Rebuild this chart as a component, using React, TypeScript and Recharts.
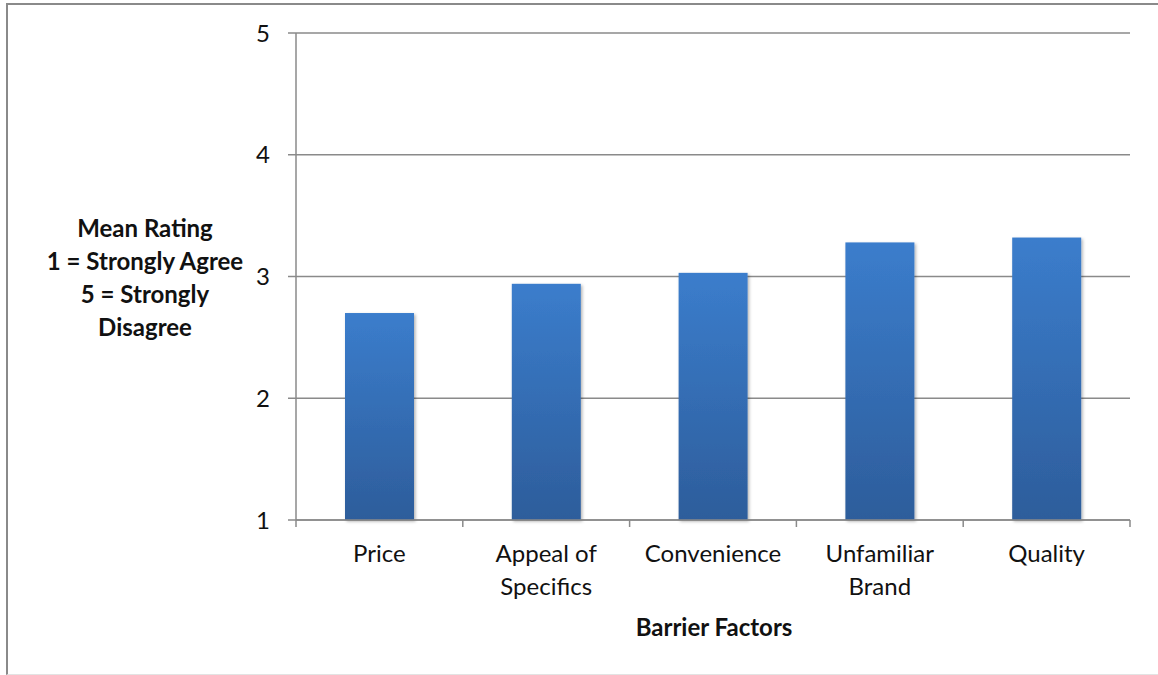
import { Bar, BarChart, CartesianGrid, Label, XAxis, YAxis } from 'recharts';

const categories = ['Price', 'Appeal of Specifics', 'Convenience', 'Unfamiliar Brand', 'Quality'];
const categoryLines = [['Price'], ['Appeal of', 'Specifics'], ['Convenience'], ['Unfamiliar', 'Brand'], ['Quality']];
const meanRatings = [2.7, 2.94, 3.03, 3.28, 3.32];
const yTicks = [1, 2, 3, 4, 5];
// integer ticks = category edges, half ticks = category centres (labels)
const xTicks = [0, 0.5, 1, 1.5, 2, 2.5, 3, 3.5, 4, 4.5, 5];
const yTitleLines = ['Mean Rating', '1 = Strongly Agree', '5 = Strongly', 'Disagree'];
const xTitle = 'Barrier Factors';

const FONT = 'Lato, "Open Sans", sans-serif';
const AXIS_GRAY = '#8a8a8a';

const data = categories.map((name, i) => ({ name, pos: i + 0.5, rating: meanRatings[i] }));

function CategoryTick(props: any) {
  const { x, y, payload } = props;
  const v = Number(payload.value);
  if (Number.isInteger(v)) {
    return <line x1={x} x2={x} y1={y} y2={y + 7} stroke={AXIS_GRAY} strokeWidth={1.5} />;
  }
  const lines = categoryLines[Math.floor(v)] ?? [];
  return (
    <text x={x} y={y + 42} textAnchor="middle" fontFamily={FONT} fontSize={24} fill="#111">
      {lines.map((line, i) => (
        <tspan key={line} x={x} dy={i === 0 ? 0 : 33}>
          {line}
        </tspan>
      ))}
    </text>
  );
}

function BarShape(props: any) {
  const { x, y, width, height } = props;
  return <rect x={x} y={y} width={width} height={height} fill="url(#barFill)" filter="url(#barShadow)" />;
}

export default function App() {
  return (
    <div style={{ position: 'absolute', left: 0, top: 0, width: 1158, height: 675, overflow: 'hidden', background: '#fff' }}>
      <div
        style={{
          position: 'absolute',
          left: 6,
          top: 3,
          width: 1170,
          height: 669,
          borderTop: `2px solid ${AXIS_GRAY}`,
          borderLeft: `2px solid ${AXIS_GRAY}`,
          borderBottom: '1px solid #e3e3e3',
        }}
      />
      <div style={{ position: 'absolute', left: 0, top: 0 }}>
        <BarChart width={1158} height={675} data={data} margin={{ top: 33, right: 28, bottom: 35, left: 16 }}>
          <defs>
            <linearGradient id="barFill" x1="0" y1="0" x2="0" y2="1">
              <stop offset="0%" stopColor="#3b7dcc" />
              <stop offset="100%" stopColor="#2d5d9b" />
            </linearGradient>
            <filter id="barShadow" x="-20%" y="-5%" width="140%" height="115%">
              <feDropShadow dx="1.5" dy="1.5" stdDeviation="1.5" floodColor="#000" floodOpacity="0.3" />
            </filter>
          </defs>
          <CartesianGrid vertical={false} stroke={AXIS_GRAY} strokeWidth={1.5} />
          <XAxis
            type="number"
            dataKey="pos"
            domain={[0, 5]}
            ticks={xTicks}
            interval={0}
            height={120}
            tickSize={0}
            tickMargin={0}
            tickLine={false}
            axisLine={{ stroke: AXIS_GRAY, strokeWidth: 1.5 }}
            tick={<CategoryTick />}
          >
            <Label
              content={() => (
                <text x={714} y={636} textAnchor="middle" fontFamily={FONT} fontSize={24} fontWeight="bold" fill="#111">
                  {xTitle}
                </text>
              )}
            />
          </XAxis>
          <YAxis
            type="number"
            domain={[1, 5]}
            ticks={yTicks}
            interval={0}
            width={280}
            tickSize={8}
            tickMargin={18}
            tickLine={{ stroke: AXIS_GRAY, strokeWidth: 1.5 }}
            axisLine={{ stroke: AXIS_GRAY, strokeWidth: 1.5 }}
            tick={{ fontFamily: FONT, fontSize: 24, fill: '#111' }}
          >
            <Label
              content={() => (
                <text x={145} y={237} textAnchor="middle" fontFamily={FONT} fontSize={24} fontWeight="bold" fill="#111">
                  {yTitleLines.map((line, i) => (
                    <tspan key={line} x={145} dy={i === 0 ? 0 : 33}>
                      {line}
                    </tspan>
                  ))}
                </text>
              )}
            />
          </YAxis>
          <Bar dataKey="rating" barSize={69} shape={<BarShape />} isAnimationActive={false} />
        </BarChart>
      </div>
    </div>
  );
}
